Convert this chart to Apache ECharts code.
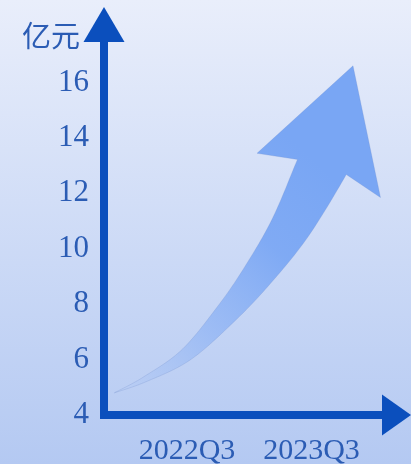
<!DOCTYPE html>
<html>
<head>
<meta charset="utf-8">
<script src="https://cdn.jsdelivr.net/npm/echarts@6/dist/echarts.min.js"></script>
<style>
html,body{margin:0;padding:0;}
#chart{width:411px;height:464px;}
</style>
</head>
<body>
<div id="chart"></div>
<script>
// Monthly categories; quarter labels sit on the middle month of the quarter
const xCategories = ['2021-12','2022-01','2022-02','2022-03','2022-04','2022-05','2022-06','2022-07','2022-08','2022-09','2022-10','2022-11','2022-12','2023-01','2023-02','2023-03','2023-04','2023-05','2023-06','2023-07','2023-08','2023-09','2023-10','2023-11','2023-12','2024-01','2024-02','2024-03','2024-04'];
const xTickLabels = { '2022-08': '2022Q3', '2023-08': '2023Q3' };
const yMin = 4, yMax = 18, yStep = 2;
const yUnit = '亿元';

// Growth arrow centre line (shaft)
const arrowMonths = ['2022-01','2022-04','2022-08','2022-12','2023-03','2023-06','2023-09'];
const arrowValues = [4.8, 5.3, 6.2, 7.75, 9.15, 10.8, 12.95];
// Arrow tip
const arrowTipMonth = '2023-12';
const arrowTipValue = 16.6;

const AXIS_COLOR = '#0b4fbd';
const LABEL_COLOR = '#2b5cb4';
const ARROW_RGB = '121,166,244';
const LABEL_FONT = "'Liberation Serif',serif";

const chart = echarts.init(document.getElementById('chart'));

function catmull(pts, seg) {
  const out = [];
  for (let i = 0; i < pts.length - 1; i++) {
    const p0 = pts[Math.max(0, i - 1)], p1 = pts[i], p2 = pts[i + 1], p3 = pts[Math.min(pts.length - 1, i + 2)];
    for (let k = 0; k < seg; k++) {
      const t = k / seg, t2 = t * t, t3 = t2 * t;
      const f = (a, b, c, d) => 0.5 * ((2 * b) + (-a + c) * t + (2 * a - 5 * b + 4 * c - d) * t2 + (-a + 3 * b - 3 * c + d) * t3);
      out.push([f(p0[0], p1[0], p2[0], p3[0]), f(p0[1], p1[1], p2[1], p3[1])]);
    }
  }
  out.push(pts[pts.length - 1]);
  return out;
}

const arrowData = arrowMonths.map((m, i) => [xCategories.indexOf(m), arrowValues[i]]);
arrowData.push([xCategories.indexOf(arrowTipMonth), arrowTipValue]);

function renderArrow(params, api) {
  if (params.dataIndex !== arrowData.length - 1) return null;
  const shaft = arrowData.slice(0, -1).map(d => api.coord(d));
  const tip = api.coord(arrowData[arrowData.length - 1]);
  const line = catmull(shaft, 16);
  const B = line[line.length - 1];
  let dx = tip[0] - B[0], dy = tip[1] - B[1];
  const dl = Math.hypot(dx, dy); dx /= dl; dy /= dl;
  const nx = dy, ny = -dx;
  const s = [0];
  for (let i = 1; i < line.length; i++) s.push(s[i - 1] + Math.hypot(line[i][0] - line[i - 1][0], line[i][1] - line[i - 1][1]));
  const S = s[s.length - 1];
  const neck = 25.5;
  const left = [], right = [];
  for (let i = 0; i < line.length; i++) {
    let tx, ty;
    if (i === line.length - 1) { tx = dx; ty = dy; }
    else {
      const a = line[Math.max(0, i - 1)], b = line[Math.min(line.length - 1, i + 1)];
      tx = b[0] - a[0]; ty = b[1] - a[1];
      const l = Math.hypot(tx, ty); tx /= l; ty /= l;
      if (i > line.length - 10) {
        const w = (i - (line.length - 10)) / 9;
        tx = tx * (1 - w) + dx * w; ty = ty * (1 - w) + dy * w;
        const l2 = Math.hypot(tx, ty); tx /= l2; ty /= l2;
      }
    }
    const r = s[i] / S;
    const h = neck * r;
    const qx = ty, qy = -tx;
    left.push([line[i][0] + qx * h, line[i][1] + qy * h]);
    right.push([line[i][0] - qx * h, line[i][1] - qy * h]);
  }
  const L = [B[0] + nx * 66 - dx * 6, B[1] + ny * 66 - dy * 6];
  const R = [B[0] - nx * 65 - dx * 12, B[1] - ny * 65 - dy * 12];
  const notchL = [B[0] + nx * neck, B[1] + ny * neck];
  const notchR = [B[0] - nx * neck, B[1] - ny * neck];
  const poly = left.concat([notchL, L, tip, R, notchR]).concat(right.slice().reverse());
  return {
    type: 'polygon',
    shape: { points: poly },
    style: {
      fill: {
        type: 'linear', global: true,
        x: shaft[0][0], y: shaft[0][1], x2: B[0], y2: B[1],
        colorStops: [
          { offset: 0, color: 'rgba(' + ARROW_RGB + ',0)' },
          { offset: 0.35, color: 'rgba(' + ARROW_RGB + ',0.5)' },
          { offset: 0.7, color: 'rgba(' + ARROW_RGB + ',0.92)' },
          { offset: 1, color: 'rgba(' + ARROW_RGB + ',1)' }
        ]
      },
      stroke: 'rgba(110,140,200,0.3)',
      lineWidth: 0.8
    }
  };
}

chart.setOption({
  animation: false,
  backgroundColor: {
    type: 'linear', x: 0, y: 0, x2: 0, y2: 1,
    colorStops: [{ offset: 0, color: '#e9eefb' }, { offset: 1, color: '#b4c9f2' }]
  },
  grid: { left: 104, right: 16.5, top: 27, bottom: 49, containLabel: false, outerBoundsMode: 'none' },
  xAxis: {
    type: 'category',
    data: xCategories,
    boundaryGap: false,
    axisLine: {
      lineStyle: { color: AXIS_COLOR, width: 8, cap: 'square' },
      symbol: ['none', 'triangle'], symbolSize: [41, 29], symbolOffset: [0, 2]
    },
    axisTick: { show: false },
    axisLabel: {
      interval: 0, margin: 21,
      color: LABEL_COLOR, fontFamily: LABEL_FONT, fontSize: 30,
      formatter: v => xTickLabels[v] || ''
    },
    splitLine: { show: false }
  },
  yAxis: {
    type: 'value',
    min: yMin, max: yMax, interval: yStep,
    name: yUnit,
    nameLocation: 'end',
    nameGap: -9,
    nameTextStyle: {
      color: LABEL_COLOR, fontFamily: "'Noto Sans CJK SC',sans-serif", fontSize: 29,
      align: 'right', verticalAlign: 'middle', padding: [0, 24, 0, 0]
    },
    axisLine: {
      show: true,
      lineStyle: { color: AXIS_COLOR, width: 8, cap: 'square' },
      symbol: ['none', 'triangle'], symbolSize: [41, 35], symbolOffset: [0, 2.5]
    },
    axisTick: { show: false },
    axisLabel: {
      showMaxLabel: false, margin: 15,
      color: LABEL_COLOR, fontFamily: LABEL_FONT, fontSize: 31
    },
    splitLine: { show: false }
  },
  series: [{
    type: 'custom',
    coordinateSystem: 'cartesian2d',
    silent: true,
    clip: false,
    data: arrowData,
    renderItem: renderArrow
  }]
});
</script>
</body>
</html>
